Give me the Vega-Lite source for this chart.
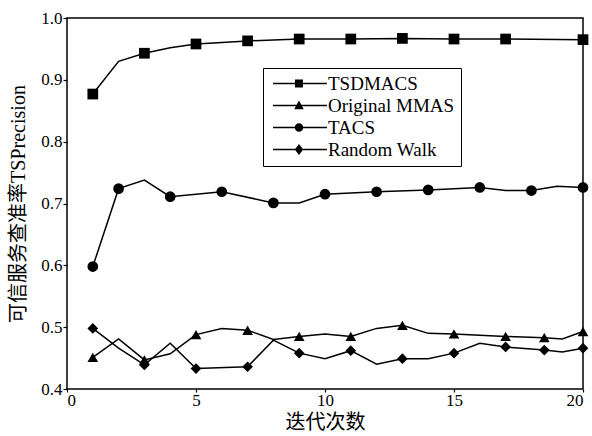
{
  "$schema": "https://vega.github.io/schema/vega-lite/v6.json",
  "width": 516,
  "height": 371,
  "autosize": {"type": "none"},
  "padding": {"left": 67, "top": 18, "right": 9, "bottom": 47},
  "background": "white",
  "config": {
    "font": "Liberation Serif, Noto Sans CJK SC",
    "view": {"stroke": "black", "strokeWidth": 1.5},
    "axis": {
      "domain": false,
      "grid": false,
      "tickColor": "black",
      "tickWidth": 1.2,
      "labelColor": "black",
      "labelFont": "Liberation Serif",
      "labelFontSize": 17,
      "titleColor": "black",
      "titleFont": "Liberation Serif, Noto Sans CJK SC",
      "titleFontSize": 20,
      "titleFontWeight": "normal"
    }
  },
  "data": {
    "values": [
      {"s": "TSDMACS", "x": 1, "y": 0.877, "m": 1},
      {"s": "TSDMACS", "x": 2, "y": 0.930, "m": 0},
      {"s": "TSDMACS", "x": 3, "y": 0.943, "m": 1},
      {"s": "TSDMACS", "x": 4, "y": 0.952, "m": 0},
      {"s": "TSDMACS", "x": 5, "y": 0.958, "m": 1},
      {"s": "TSDMACS", "x": 7, "y": 0.963, "m": 1},
      {"s": "TSDMACS", "x": 9, "y": 0.966, "m": 1},
      {"s": "TSDMACS", "x": 11, "y": 0.966, "m": 1},
      {"s": "TSDMACS", "x": 13, "y": 0.967, "m": 1},
      {"s": "TSDMACS", "x": 15, "y": 0.966, "m": 1},
      {"s": "TSDMACS", "x": 17, "y": 0.966, "m": 1},
      {"s": "TSDMACS", "x": 20, "y": 0.965, "m": 1},

      {"s": "Original MMAS", "x": 1, "y": 0.451, "m": 1},
      {"s": "Original MMAS", "x": 2, "y": 0.481, "m": 0},
      {"s": "Original MMAS", "x": 3, "y": 0.447, "m": 1},
      {"s": "Original MMAS", "x": 4, "y": 0.457, "m": 0},
      {"s": "Original MMAS", "x": 5, "y": 0.488, "m": 1},
      {"s": "Original MMAS", "x": 6, "y": 0.498, "m": 0},
      {"s": "Original MMAS", "x": 7, "y": 0.495, "m": 1},
      {"s": "Original MMAS", "x": 8, "y": 0.480, "m": 0},
      {"s": "Original MMAS", "x": 9, "y": 0.485, "m": 1},
      {"s": "Original MMAS", "x": 10, "y": 0.489, "m": 0},
      {"s": "Original MMAS", "x": 11, "y": 0.485, "m": 1},
      {"s": "Original MMAS", "x": 12, "y": 0.498, "m": 0},
      {"s": "Original MMAS", "x": 13, "y": 0.503, "m": 1},
      {"s": "Original MMAS", "x": 14, "y": 0.490, "m": 0},
      {"s": "Original MMAS", "x": 15, "y": 0.489, "m": 1},
      {"s": "Original MMAS", "x": 17, "y": 0.485, "m": 1},
      {"s": "Original MMAS", "x": 18.5, "y": 0.483, "m": 1},
      {"s": "Original MMAS", "x": 19.2, "y": 0.481, "m": 0},
      {"s": "Original MMAS", "x": 20, "y": 0.493, "m": 1},

      {"s": "TACS", "x": 1, "y": 0.598, "m": 1},
      {"s": "TACS", "x": 2, "y": 0.724, "m": 1},
      {"s": "TACS", "x": 3, "y": 0.738, "m": 0},
      {"s": "TACS", "x": 4, "y": 0.711, "m": 1},
      {"s": "TACS", "x": 6, "y": 0.719, "m": 1},
      {"s": "TACS", "x": 8, "y": 0.701, "m": 1},
      {"s": "TACS", "x": 9, "y": 0.701, "m": 0},
      {"s": "TACS", "x": 10, "y": 0.715, "m": 1},
      {"s": "TACS", "x": 12, "y": 0.719, "m": 1},
      {"s": "TACS", "x": 14, "y": 0.722, "m": 1},
      {"s": "TACS", "x": 16, "y": 0.726, "m": 1},
      {"s": "TACS", "x": 17, "y": 0.721, "m": 0},
      {"s": "TACS", "x": 18, "y": 0.721, "m": 1},
      {"s": "TACS", "x": 19, "y": 0.728, "m": 0},
      {"s": "TACS", "x": 20, "y": 0.726, "m": 1},

      {"s": "Random Walk", "x": 1, "y": 0.498, "m": 1},
      {"s": "Random Walk", "x": 2, "y": 0.466, "m": 0},
      {"s": "Random Walk", "x": 3, "y": 0.439, "m": 1},
      {"s": "Random Walk", "x": 4, "y": 0.474, "m": 0},
      {"s": "Random Walk", "x": 5, "y": 0.433, "m": 1},
      {"s": "Random Walk", "x": 7, "y": 0.436, "m": 1},
      {"s": "Random Walk", "x": 8, "y": 0.479, "m": 0},
      {"s": "Random Walk", "x": 9, "y": 0.458, "m": 1},
      {"s": "Random Walk", "x": 10, "y": 0.449, "m": 0},
      {"s": "Random Walk", "x": 11, "y": 0.462, "m": 1},
      {"s": "Random Walk", "x": 12, "y": 0.440, "m": 0},
      {"s": "Random Walk", "x": 13, "y": 0.449, "m": 1},
      {"s": "Random Walk", "x": 14, "y": 0.449, "m": 0},
      {"s": "Random Walk", "x": 15, "y": 0.458, "m": 1},
      {"s": "Random Walk", "x": 16, "y": 0.474, "m": 0},
      {"s": "Random Walk", "x": 17, "y": 0.468, "m": 1},
      {"s": "Random Walk", "x": 18.5, "y": 0.463, "m": 1},
      {"s": "Random Walk", "x": 19.2, "y": 0.460, "m": 0},
      {"s": "Random Walk", "x": 20, "y": 0.466, "m": 1}
    ]
  },
  "encoding": {
    "x": {
      "field": "x",
      "type": "quantitative",
      "scale": {"domain": [0, 20], "nice": false},
      "axis": {"values": [0, 5, 10, 15, 20], "title": "迭代次数", "tickSize": 3, "labelPadding": 0, "titlePadding": 4}
    },
    "y": {
      "field": "y",
      "type": "quantitative",
      "scale": {"domain": [0.4, 1.0], "nice": false, "zero": false},
      "axis": {"values": [0.4, 0.5, 0.6, 0.7, 0.8, 0.9, 1.0], "format": ".1f", "title": "可信服务查准率TSPrecision", "tickSize": 4, "labelPadding": 1, "titlePadding": 12}
    }
  },
  "layer": [
    {
      "mark": {"type": "line", "color": "black", "strokeWidth": 1.5},
      "encoding": {"detail": {"field": "s"}}
    },
    {
      "transform": [{"filter": "datum.m == 1"}],
      "mark": {"type": "point", "filled": true, "color": "black", "size": 115, "opacity": 1},
      "encoding": {
        "shape": {
          "field": "s",
          "type": "nominal",
          "scale": {"domain": ["TSDMACS", "Original MMAS", "TACS", "Random Walk"], "range": ["square", "triangle-up", "circle", "diamond"]},
          "legend": null
        }
      }
    },
    {
      "transform": [{"filter": "datum.m == 1"}],
      "mark": {"type": "point", "filled": true, "color": "black", "opacity": 0},
      "encoding": {
        "shape": {
          "field": "s",
          "type": "nominal",
          "scale": {
            "domain": ["TSDMACS", "Original MMAS", "TACS", "Random Walk"],
            "range": [
              "M-0.65,-0.09H5.7V0.09H-0.65ZM1.94,-0.47H2.88V0.47H1.94Z",
              "M-0.65,-0.09H5.7V0.09H-0.65ZM2.41,-0.6L2.97,0.45H1.85Z",
              "M-0.65,-0.09H5.7V0.09H-0.65ZM2.91,0A0.5,0.5 0 1,1 1.91,0A0.5,0.5 0 1,1 2.91,0Z",
              "M-0.65,-0.09H5.7V0.09H-0.65ZM2.41,-0.65L2.91,0L2.41,0.65L1.91,0Z"
            ]
          },
          "legend": {
            "orient": "none",
            "legendX": 196,
            "legendY": 50,
            "title": null,
            "symbolSize": 289,
            "symbolOpacity": 1,
            "symbolFillColor": "black",
            "labelFont": "Liberation Serif",
            "labelFontSize": 19,
            "labelColor": "black",
            "labelOffset": 40,
            "labelLimit": 300,
            "strokeColor": "black",
            "fillColor": "white",
            "padding": 6,
            "rowPadding": 2
          }
        }
      }
    }
  ],
  "resolve": {"scale": {"shape": "independent"}, "legend": {"shape": "independent"}}
}
